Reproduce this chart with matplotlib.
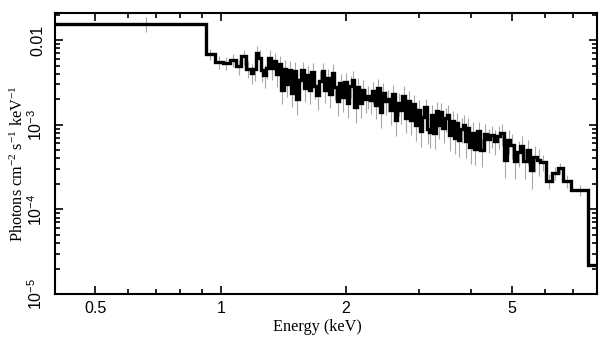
'''Unfolded X-ray spectrum, photons cm^-2 s^-1 keV^-1 vs energy'''

import numpy as np
import matplotlib
matplotlib.use('Agg')
import matplotlib.pyplot as plt
from matplotlib.ticker import FixedLocator, NullFormatter, FuncFormatter

# bin edges in keV
edges = [0.40, 0.92, 0.97, 1.01, 1.05, 1.09, 1.12, 1.15, 1.18,
         1.197, 1.214, 1.231, 1.248, 1.266, 1.284, 1.302, 1.320, 1.339,
         1.358, 1.377, 1.396, 1.416, 1.436, 1.456, 1.476, 1.497, 1.518,
         1.539, 1.561, 1.583, 1.605, 1.628, 1.651, 1.674, 1.698, 1.722,
         1.746, 1.771, 1.796, 1.821, 1.847, 1.873, 1.899, 1.926, 1.953,
         1.980, 2.008, 2.036, 2.065, 2.094, 2.123, 2.153, 2.183, 2.214,
         2.245, 2.277, 2.309, 2.341, 2.374, 2.407, 2.441, 2.475, 2.510,
         2.545, 2.581, 2.617, 2.654, 2.691, 2.729, 2.767, 2.806, 2.845,
         2.885, 2.925, 2.966, 3.008,
         3.046, 3.084, 3.123, 3.162, 3.201, 3.241, 3.282, 3.323, 3.365,
         3.407, 3.450, 3.493, 3.537, 3.581, 3.626, 3.671, 3.717, 3.764,
         3.811, 3.859, 3.907, 3.956, 4.006, 4.05,
         4.125, 4.201, 4.279, 4.358, 4.439, 4.521, 4.605, 4.690, 4.777,
         4.866, 4.956, 5.048, 5.141, 5.236, 5.333, 5.432, 5.533, 5.635,
         5.740, 5.85,
         6.03, 6.23, 6.44, 6.63, 6.93, 7.61, 8.20]

# flux per bin, in units of 1e-3 photons cm^-2 s^-1 keV^-1
flux_e3 = [15.5, 6.8, 5.5, 5.4, 5.8, 4.9, 6.4, 4.6,
           4.1, 4.6, 7.0, 6.2, 4.4, 3.9, 4.7, 6.1, 4.7, 5.6,
           4.0, 5.2, 2.6, 4.6, 3.0, 4.4, 2.4, 4.3, 2.0, 3.4,
           4.4, 2.7, 3.9, 2.6, 4.2, 2.9, 2.24, 3.3, 4.3, 2.6,
           3.6, 2.3, 4.1, 2.8, 1.9, 3.1, 2.1, 3.2, 1.8, 2.9,
           3.4, 1.6, 2.8, 1.8, 2.6, 2.0, 2.2, 1.96, 2.5, 1.7,
           2.7, 1.4, 2.4, 1.9, 2.0, 1.5, 2.3, 1.14, 1.8, 1.5,
           2.2, 1.2, 1.9, 1.14, 1.75, 1.0, 1.5,
           0.85, 1.25, 1.6, 0.9, 0.82, 1.3, 0.8, 1.45, 1.0,
           1.4, 0.92, 1.2, 1.3, 0.76, 1.1, 0.7, 1.05, 0.66,
           0.9, 1.0, 0.64, 0.92, 0.55, 0.8,
           0.52, 0.85, 0.50, 0.78, 0.68, 0.75, 0.65, 0.74, 0.80,
           0.38, 0.66, 0.58, 0.37, 0.48, 0.56, 0.37, 0.50, 0.29,
           0.42, 0.38,
           0.36, 0.216, 0.269, 0.308, 0.216, 0.169, 0.022]

# fractional 1-sigma errors per bin
err_frac = [0.20, 0.15, 0.18, 0.18, 0.18, 0.20, 0.20, 0.22,
            0.26, 0.28, 0.22, 0.24, 0.28, 0.30, 0.27, 0.24, 0.28, 0.25,
            0.30, 0.26, 0.32, 0.26, 0.30, 0.27, 0.32, 0.27, 0.34, 0.29,
            0.26, 0.31, 0.27, 0.32, 0.27, 0.30, 0.33, 0.29, 0.26, 0.31,
            0.28, 0.32, 0.27, 0.30, 0.34, 0.29, 0.32, 0.28, 0.34, 0.29,
            0.27, 0.34, 0.29, 0.33, 0.29, 0.31, 0.30, 0.31, 0.29, 0.32,
            0.28, 0.34, 0.29, 0.31, 0.30, 0.33, 0.29, 0.35, 0.30, 0.32,
            0.29, 0.34, 0.30, 0.34, 0.30, 0.35, 0.31,
            0.35, 0.30, 0.27, 0.34, 0.35, 0.30, 0.35, 0.28, 0.33,
            0.29, 0.34, 0.31, 0.30, 0.36, 0.31, 0.36, 0.31, 0.37,
            0.33, 0.31, 0.37, 0.32, 0.38, 0.33,
            0.36, 0.28, 0.36, 0.29, 0.31, 0.30, 0.32, 0.30, 0.29,
            0.38, 0.31, 0.33, 0.38, 0.34, 0.31, 0.38, 0.33, 0.40,
            0.34, 0.35,
            0.22, 0.20, 0.18, 0.16, 0.17, 0.14, 0.0]

x_major = [0.5, 1, 2, 5]
x_minor = [0.4, 0.6, 0.7, 0.8, 0.9, 3, 4, 6, 7, 8]
y_major = [1e-5, 1e-4, 1e-3, 1e-2]
y_labels = {1e-5: r'$\mathsf{10^{-5}}$', 1e-4: r'$\mathsf{10^{-4}}$',
            1e-3: r'$\mathsf{10^{-3}}$', 1e-2: '0.01'}


plt.rcParams['mathtext.fontset'] = 'custom'
plt.rcParams['mathtext.rm'] = 'Liberation Serif'
plt.rcParams['mathtext.sf'] = 'Liberation Sans'
plt.rcParams['mathtext.it'] = 'Liberation Serif:italic'

edges = np.array(edges)
flux = np.array(flux_e3) * 1e-3
yerr = flux * np.array(err_frac)
centers = 0.5 * (edges[:-1] + edges[1:])

fig = plt.figure(figsize=(6.09, 3.57), dpi=100)
ax = fig.add_axes([0.0903, 0.1765, 0.8897, 0.7871])

ax.errorbar(centers, flux, yerr=yerr, fmt='none', ecolor='#a8a8a8',
            elinewidth=0.8, zorder=1)
ax.stairs(flux, edges, baseline=None, color='black', lw=2.4, zorder=2)

ax.set_xscale('log')
ax.set_yscale('log')
ax.set_xlim(0.4, 8.0)
ax.set_ylim(1e-5, 0.0209)

ax.xaxis.set_major_locator(FixedLocator(x_major))
ax.xaxis.set_minor_locator(FixedLocator(x_minor))
ax.xaxis.set_major_formatter(FuncFormatter(lambda v, p: '%g' % v))
ax.xaxis.set_minor_formatter(NullFormatter())

ax.yaxis.set_major_locator(FixedLocator(y_major))
ax.yaxis.set_minor_locator(FixedLocator(
    [m * d for d in y_major for m in range(2, 10)]))
ax.yaxis.set_major_formatter(FuncFormatter(lambda v, p: y_labels.get(v, '')))
ax.yaxis.set_minor_formatter(NullFormatter())

ax.tick_params(which='both', direction='in', top=True, right=True,
               width=1.2, colors='black')
ax.tick_params(which='major', length=6)
ax.tick_params(which='minor', length=3.5)
ax.tick_params(axis='x', which='major', pad=5, labelsize=11.5)
ax.tick_params(axis='y', which='major', pad=7, labelsize=11.5)
for lab in ax.get_xticklabels():
    lab.set_fontfamily('Liberation Sans')
for lab in ax.get_yticklabels():
    lab.set_fontfamily('Liberation Sans')
    lab.set_rotation(90)
    lab.set_va('center')

for s in ax.spines.values():
    s.set_linewidth(1.5)

ax.set_xlabel('Energy (keV)', family='Liberation Serif', fontsize=11.7)
ax.set_ylabel(r'Photons cm$^{-2}$ s$^{-1}$ keV$^{-1}$',
              family='Liberation Serif', fontsize=11.7)
ax.xaxis.set_label_coords(0.484, -0.09)
ax.yaxis.set_label_coords(-0.052, 0.463)

fig.savefig('out.png', dpi=100)
